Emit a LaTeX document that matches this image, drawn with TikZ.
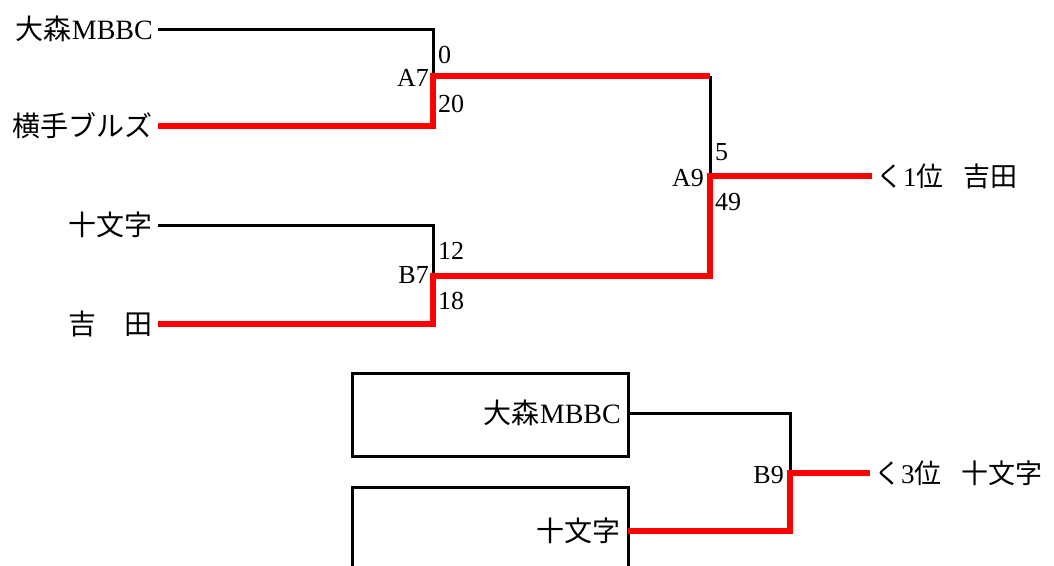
\documentclass[tikz,border=0pt]{standalone}
\usepackage{fontspec}
\setmainfont{Liberation Serif}
\newfontfamily\cjk{Noto Sans CJK JP}
\tikzset{
  team/.style={anchor=east, inner xsep=5pt, inner ysep=0pt, font=\fontsize{28pt}{30pt}\selectfont},
  res/.style={anchor=west, inner xsep=4pt, inner ysep=0pt, font=\fontsize{27pt}{29pt}\selectfont},
  score/.style={anchor=west, inner sep=0pt, font=\fontsize{26pt}{28pt}\selectfont},
  game/.style={anchor=east, inner sep=0pt, font=\fontsize{26pt}{28pt}\selectfont},
  lose/.style={draw=black, line width=3pt},
  win/.style={draw=red, line width=5.5pt},
  frame/.style={draw=black, line width=3pt}
}
\begin{document}
\begin{tikzpicture}[x=1pt, y=-1pt]
\useasboundingbox (0,0) rectangle (1054,565);
% teams
\node[team] (t1) at (158,29) {{\cjk 大森}MBBC};
\node[team] (t2) at (158,126) {\cjk 横手ブルズ};
\node[team] (t3) at (158,225) {\cjk 十文字};
\node[team] (t4) at (158,324) {\cjk 吉　田};
% junctions
\coordinate (a7) at (433,76);
\coordinate (b7) at (433,276);
\coordinate (a9) at (710,176);
\coordinate (b9) at (790,473);
% results
\node[res] (w1) at (872,176) {{\cjk く}1{\cjk 位}\hspace{0.75em}{\cjk 吉田}};
\node[res] (w2) at (870,473) {{\cjk く}3{\cjk 位}\hspace{0.75em}{\cjk 十文字}};
% scores and games
\node[score] (s1) at (438,55) {0};
\node[game] (g1) at (429,78) {A7};
\node[score] (s2) at (438,104) {20};
\node[score] (s3) at (438,251) {12};
\node[game] (g2) at (429,275) {B7};
\node[score] (s4) at (438,301) {18};
\node[score] (s5) at (715,152) {5};
\node[game] (g3) at (704,178) {A9};
\node[score] (s6) at (715,202) {49};
\node[game] (g4) at (784,475) {B9};
% third place boxes
\draw[frame] (352,373) rectangle (628,456);
\draw[frame] (352,570) -- (352,487) -- (628,487) -- (628,570);
\node[team, inner xsep=7pt] (m1) at (628,413) {{\cjk 大森}MBBC};
\node[team, inner xsep=7pt] (m2) at (628,531) {\cjk 十文字};
% connectors
\draw[lose] (t1.east) -| (a7);
\draw[lose] (t3.east) -| (b7);
\draw[lose] (a7 -| a9) -- (a9);
\draw[win] (t2.east) -| (a7) -- (a7 -| a9);
\draw[win] (t4.east) -| (b7) -| (a9) -- (w1.west);
\draw[lose] (m1.east) -| (b9);
\draw[win] (m2.east) -| (b9) -- (w2.west);
\end{tikzpicture}
\end{document}
